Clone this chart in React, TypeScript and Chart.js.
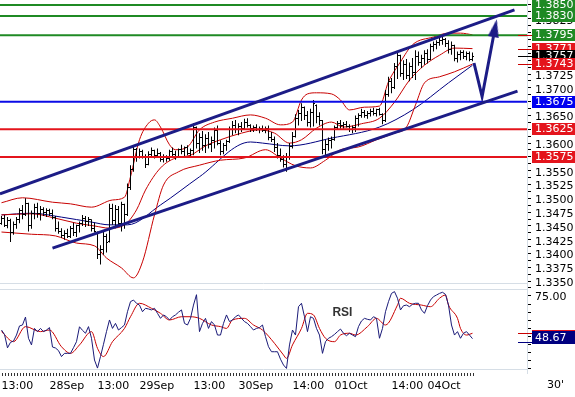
import React, { useEffect, useRef } from 'react';
import { Chart, registerables } from 'chart.js';

Chart.register(...registerables);

const FONT = '"DejaVu Sans", Verdana, sans-serif';

// ---- price bars (30-minute OHLC, EUR/USD) ----
const high = [
  1.3468, 1.3470, 1.3466, 1.3463, 1.3458, 1.3466, 1.3482, 1.3488, 1.3500, 1.3492,
  1.3478, 1.3490, 1.3492, 1.3486, 1.3484, 1.3482, 1.3481, 1.3480, 1.3468, 1.3458,
  1.3446, 1.3442, 1.3445, 1.3450, 1.3456, 1.3452, 1.3458, 1.3470, 1.3468, 1.3466,
  1.3462, 1.3456, 1.3440, 1.3415, 1.3440, 1.3436, 1.3490, 1.3490, 1.3488, 1.3486,
  1.3494, 1.3490, 1.3527, 1.3560, 1.3593, 1.3591, 1.3590, 1.3588, 1.3580, 1.3585,
  1.3592, 1.3588, 1.3590, 1.3584, 1.3580, 1.3578, 1.3588, 1.3592, 1.3586, 1.3590,
  1.3597, 1.3594, 1.3596, 1.3590, 1.3636, 1.3630, 1.3618, 1.3622, 1.3616, 1.3620,
  1.3612, 1.3628, 1.3632, 1.3605, 1.3600, 1.3606, 1.3630, 1.3640, 1.3642, 1.3636,
  1.3638, 1.3644, 1.3645, 1.3634, 1.3632, 1.3634, 1.3630, 1.3632, 1.3630, 1.3632,
  1.3620, 1.3612, 1.3600, 1.3590, 1.3578, 1.3582, 1.3600, 1.3620, 1.3652, 1.3660,
  1.3672, 1.3666, 1.3658, 1.3662, 1.3678, 1.3670, 1.3656, 1.3642, 1.3606, 1.3610,
  1.3612, 1.3632, 1.3640, 1.3642, 1.3638, 1.3640, 1.3634, 1.3632, 1.3650, 1.3654,
  1.3662, 1.3660, 1.3658, 1.3662, 1.3664, 1.3662, 1.3664, 1.3654, 1.3696, 1.3720,
  1.3718, 1.3745, 1.3764, 1.3760, 1.3750, 1.3752, 1.3746, 1.3754, 1.3768, 1.3766,
  1.3760, 1.3768, 1.3770, 1.3780, 1.3784, 1.3786, 1.3792, 1.3792, 1.3790, 1.3786,
  1.3784, 1.3778, 1.3766, 1.3768, 1.3768, 1.3766, 1.3766, 1.3764,
];
const low = [
  1.3452, 1.3448, 1.3446, 1.3421, 1.3434, 1.3445, 1.3455, 1.3462, 1.3468, 1.3440,
  1.3445, 1.3462, 1.3465, 1.3460, 1.3468, 1.3466, 1.3468, 1.3462, 1.3440, 1.3436,
  1.3428, 1.3425, 1.3428, 1.3428, 1.3432, 1.3430, 1.3438, 1.3450, 1.3448, 1.3450,
  1.3440, 1.3438, 1.3390, 1.3380, 1.3398, 1.3402, 1.3420, 1.3452, 1.3446, 1.3448,
  1.3440, 1.3445, 1.3468, 1.3515, 1.3548, 1.3566, 1.3572, 1.3572, 1.3555, 1.3560,
  1.3576, 1.3572, 1.3574, 1.3566, 1.3565, 1.3566, 1.3568, 1.3574, 1.3570, 1.3574,
  1.3580, 1.3576, 1.3578, 1.3576, 1.3578, 1.3590, 1.3582, 1.3586, 1.3582, 1.3590,
  1.3584, 1.3590, 1.3596, 1.3578, 1.3580, 1.3586, 1.3600, 1.3614, 1.3618, 1.3614,
  1.3620, 1.3624, 1.3628, 1.3620, 1.3620, 1.3622, 1.3618, 1.3620, 1.3618, 1.3605,
  1.3602, 1.3584, 1.3572, 1.3566, 1.3556, 1.3548, 1.3570, 1.3590, 1.3610, 1.3632,
  1.3640, 1.3642, 1.3630, 1.3628, 1.3630, 1.3636, 1.3632, 1.3580, 1.3578, 1.3586,
  1.3590, 1.3604, 1.3624, 1.3626, 1.3626, 1.3628, 1.3620, 1.3618, 1.3620, 1.3630,
  1.3646, 1.3646, 1.3644, 1.3648, 1.3650, 1.3648, 1.3650, 1.3634, 1.3638, 1.3684,
  1.3690, 1.3698, 1.3716, 1.3720, 1.3714, 1.3716, 1.3712, 1.3718, 1.3714, 1.3740,
  1.3736, 1.3742, 1.3744, 1.3750, 1.3766, 1.3770, 1.3776, 1.3778, 1.3774, 1.3762,
  1.3760, 1.3748, 1.3746, 1.3750, 1.3752, 1.3750, 1.3748, 1.3748,
];
const open = [
  1.3455, 1.3463, 1.3451, 1.3460, 1.3438, 1.3452, 1.3461, 1.3478, 1.3470, 1.3490,
  1.3450, 1.3472, 1.3484, 1.3472, 1.3480, 1.3474, 1.3478, 1.3472, 1.3466, 1.3446,
  1.3440, 1.3432, 1.3436, 1.3430, 1.3446, 1.3438, 1.3450, 1.3455, 1.3464, 1.3458,
  1.3462, 1.3445, 1.3438, 1.3398, 1.3408, 1.3430, 1.3422, 1.3482, 1.3460, 1.3480,
  1.3455, 1.3488, 1.3470, 1.3520, 1.3552, 1.3588, 1.3574, 1.3584, 1.3576, 1.3562,
  1.3580, 1.3586, 1.3578, 1.3582, 1.3570, 1.3575, 1.3572, 1.3584, 1.3580, 1.3576,
  1.3588, 1.3584, 1.3592, 1.3582, 1.3586, 1.3628, 1.3600, 1.3610, 1.3596, 1.3608,
  1.3598, 1.3604, 1.3622, 1.3600, 1.3584, 1.3595, 1.3602, 1.3625, 1.3632, 1.3624,
  1.3630, 1.3626, 1.3638, 1.3632, 1.3626, 1.3628, 1.3624, 1.3627, 1.3622, 1.3626,
  1.3610, 1.3606, 1.3592, 1.3578, 1.3570, 1.3562, 1.3576, 1.3594, 1.3612, 1.3645,
  1.3654, 1.3664, 1.3650, 1.3638, 1.3655, 1.3668, 1.3648, 1.3640, 1.3588, 1.3598,
  1.3604, 1.3606, 1.3628, 1.3636, 1.3632, 1.3634, 1.3630, 1.3624, 1.3628, 1.3644,
  1.3650, 1.3656, 1.3650, 1.3654, 1.3658, 1.3654, 1.3660, 1.3652, 1.3640, 1.3688,
  1.3712, 1.3700, 1.3738, 1.3758, 1.3726, 1.3742, 1.3722, 1.3738, 1.3728, 1.3756,
  1.3746, 1.3754, 1.3762, 1.3752, 1.3774, 1.3778, 1.3782, 1.3786, 1.3788, 1.3780,
  1.3770, 1.3776, 1.3754, 1.3760, 1.3764, 1.3756, 1.3762, 1.3752,
];
const close = [
  1.3463, 1.3451, 1.3460, 1.3438, 1.3452, 1.3461, 1.3478, 1.3470, 1.3490, 1.3450,
  1.3472, 1.3484, 1.3472, 1.3480, 1.3474, 1.3478, 1.3472, 1.3466, 1.3446, 1.3440,
  1.3432, 1.3436, 1.3430, 1.3446, 1.3438, 1.3450, 1.3455, 1.3464, 1.3458, 1.3462,
  1.3445, 1.3440, 1.3398, 1.3408, 1.3430, 1.3420, 1.3482, 1.3460, 1.3480, 1.3455,
  1.3488, 1.3470, 1.3520, 1.3552, 1.3588, 1.3574, 1.3584, 1.3576, 1.3562, 1.3580,
  1.3586, 1.3578, 1.3582, 1.3570, 1.3575, 1.3572, 1.3584, 1.3580, 1.3576, 1.3588,
  1.3584, 1.3592, 1.3582, 1.3586, 1.3628, 1.3600, 1.3610, 1.3596, 1.3608, 1.3598,
  1.3604, 1.3622, 1.3600, 1.3584, 1.3595, 1.3602, 1.3625, 1.3632, 1.3624, 1.3630,
  1.3626, 1.3638, 1.3632, 1.3626, 1.3628, 1.3624, 1.3627, 1.3622, 1.3626, 1.3610,
  1.3606, 1.3592, 1.3578, 1.3570, 1.3562, 1.3576, 1.3594, 1.3612, 1.3645, 1.3654,
  1.3664, 1.3650, 1.3638, 1.3655, 1.3672, 1.3648, 1.3640, 1.3588, 1.3598, 1.3604,
  1.3606, 1.3628, 1.3636, 1.3632, 1.3634, 1.3630, 1.3624, 1.3628, 1.3644, 1.3650,
  1.3656, 1.3650, 1.3654, 1.3658, 1.3654, 1.3660, 1.3652, 1.3640, 1.3688, 1.3712,
  1.3700, 1.3738, 1.3758, 1.3726, 1.3742, 1.3722, 1.3738, 1.3728, 1.3756, 1.3746,
  1.3754, 1.3762, 1.3752, 1.3774, 1.3778, 1.3782, 1.3786, 1.3788, 1.3780, 1.3770,
  1.3776, 1.3754, 1.3760, 1.3764, 1.3756, 1.3762, 1.3752, 1.3757,
];

// ---- Bollinger bands & moving average (sampled at bar indices) ----
const bbUpperIdx = [0, 7, 17, 23, 30, 37, 41, 43, 46, 49, 51, 53, 56, 58, 62, 66, 71, 77, 83, 88, 93, 97, 100, 102, 105, 110, 113, 116, 121, 126, 129, 133, 137, 144, 149, 153, 157];
const bbUpper = [1.3492, 1.3501, 1.3493, 1.3490, 1.3484, 1.3497, 1.3502, 1.3539, 1.3606, 1.3636, 1.3642, 1.3629, 1.3597, 1.3588, 1.3593, 1.3624, 1.3638, 1.3645, 1.3651, 1.3645, 1.3633, 1.3638, 1.3678, 1.3689, 1.3691, 1.3689, 1.3678, 1.3660, 1.3665, 1.3667, 1.3711, 1.3747, 1.3778, 1.3792, 1.3799, 1.3799, 1.3796];
const bbMidIdx = [0, 10, 18, 25, 31, 36, 41, 45, 48, 53, 58, 63, 68, 73, 80, 86, 91, 96, 100, 105, 110, 114, 120, 126, 131, 136, 141, 146, 151, 157];
const bbMid = [1.3470, 1.3472, 1.3464, 1.3455, 1.3450, 1.3446, 1.3452, 1.3479, 1.3515, 1.3555, 1.3573, 1.3578, 1.3595, 1.3606, 1.3618, 1.3624, 1.3618, 1.3600, 1.3606, 1.3627, 1.3638, 1.3629, 1.3635, 1.3645, 1.3674, 1.3714, 1.3741, 1.3759, 1.3772, 1.3771];
const bbLowerIdx = [0, 10, 18, 25, 31, 35, 40, 44, 47, 51, 54, 59, 66, 73, 81, 88, 93, 98, 103, 108, 113, 119, 125, 131, 135, 138, 141, 146, 151, 157];
const bbLower = [1.3439, 1.3435, 1.3432, 1.3419, 1.3414, 1.3392, 1.3374, 1.3356, 1.3385, 1.3470, 1.3524, 1.3548, 1.3560, 1.3569, 1.3573, 1.3588, 1.3573, 1.3559, 1.3555, 1.3569, 1.3588, 1.3593, 1.3606, 1.3618, 1.3629, 1.3669, 1.3709, 1.3720, 1.3729, 1.3743];
const maIdx = [0, 10, 20, 30, 36, 42, 53, 66, 83, 87, 96, 110, 126, 137, 149, 157];
const ma = [1.3470, 1.3473, 1.3466, 1.3457, 1.3452, 1.3452, 1.3488, 1.3539, 1.3602, 1.3600, 1.3595, 1.3609, 1.3629, 1.3660, 1.3709, 1.3741];

// ---- trend channel, levels, projection ----
const chanUpperIdx = [-0.5, 171];
const chanUpper = [1.3508, 1.3841];
const chanLowerIdx = [17, 172];
const chanLower = [1.3410, 1.3694];
const greenLevels = [1.3850, 1.3830, 1.3795];
const blueLevels = [1.3675];
const redLevels = [1.3625, 1.3575];
const projIdx = [157.5, 160.2, 164.5];
const proj = [1.3745, 1.3684, 1.3808];

// ---- RSI ----
const rsi = [
  54.0, 51.3, 43.0, 46.4, 47.2, 50.9, 56.5, 57.1, 62.0, 48.9,
  44.8, 55.0, 53.0, 55.0, 53.0, 54.0, 55.5, 43.5, 42.9, 41.3,
  37.6, 39.6, 39.6, 39.6, 43.1, 46.8, 56.0, 53.8, 52.0, 56.1,
  48.9, 35.5, 30.5, 37.6, 45.2, 53.0, 60.2, 55.0, 58.1, 54.0,
  55.5, 57.1, 65.3, 71.5, 72.5, 70.5, 69.4, 65.3, 67.4, 67.0,
  66.4, 67.4, 64.3, 61.2, 63.3, 62.2, 60.2, 62.2, 63.3, 65.0,
  66.4, 58.1, 57.1, 61.2, 69.4, 75.8, 53.0, 58.1, 61.2, 55.0,
  59.2, 57.1, 50.9, 50.9, 58.1, 63.3, 59.2, 60.2, 62.2, 63.3,
  61.2, 59.2, 58.1, 56.1, 54.0, 55.0, 55.5, 57.1, 49.9, 43.7,
  40.6, 40.6, 40.6, 36.0, 32.4, 30.3, 44.8, 54.0, 50.9, 68.4,
  70.5, 62.2, 53.0, 62.2, 61.2, 55.0, 50.9, 39.6, 46.8, 48.9,
  49.9, 51.3, 53.0, 54.6, 52.0, 50.5, 52.0, 50.9, 49.9, 56.1,
  59.6, 61.2, 60.6, 60.2, 62.2, 61.2, 48.9, 55.0, 65.3, 71.5,
  76.6, 77.7, 73.6, 66.4, 69.0, 69.4, 68.4, 69.9, 70.5, 70.5,
  66.4, 64.3, 69.0, 72.5, 74.6, 75.6, 76.6, 77.3, 76.0, 69.4,
  57.1, 50.9, 53.0, 48.9, 52.0, 53.0, 50.9, 48.67,
];
const rsiMaIdx = [0, 4, 8, 13, 16, 20, 23, 26, 30, 32, 34, 37, 41, 43, 46, 50, 53, 56, 60, 63, 66, 70, 73, 75, 77, 81, 84, 87, 91, 94, 95, 97, 100, 102, 104, 106, 108, 111, 113, 116, 118, 122, 125, 128, 132, 133, 136, 140, 143, 146, 148, 149, 152, 153, 155, 157];
const rsiMa = [53, 46.8, 56.1, 53, 54, 43.7, 39.6, 44.8, 53, 42.7, 37.6, 46.8, 55, 62.2, 70.5, 67.4, 64.3, 60.2, 62.2, 62.2, 61.2, 57.1, 56.1, 55, 60.2, 61.2, 57.1, 54, 45.8, 38.6, 36.5, 44.8, 55, 64.3, 63.3, 55, 48.9, 46.8, 50.9, 52, 50.9, 56.1, 61.2, 57.1, 69.4, 73.6, 70.5, 69.4, 68.4, 73.6, 75.6, 69.4, 61.2, 55, 50.9, 52];

// ---- axes ----
const xLabelIdx = [0, 16, 32, 46, 64, 79, 97, 111, 130, 142];
const xLabels = ['13:00', '28Sep', '13:00', '29Sep', '13:00', '30Sep', '14:00', '01Oct', '14:00', '04Oct'];
const xMin = -0.5;
const xMax = 175.17;
const priceMin = 1.33413;
const priceMax = 1.3859;
const priceTickFrom = 1.335;
const priceTickTo = 1.385;
const priceTickStep = 0.00125;
const rsiMin = 27.47;
const rsiMax = 81.17;
const rsiTicks = [30, 35, 40, 45, 50, 55, 60, 65, 70, 75, 80];
const rsiLabelled = [75];
const panelPriceLine = 1.3346;
const panelRsiLines = [79.6, 30];

const NAVY = '#1c1c86';
const GREEN = '#1f8a24';
const BLUE = '#0b0be6';
const RED = '#e4141c';
const BAND = '#c80000';

const pts = (xs: number[], ys: number[]) => xs.map((x, i) => ({ x, y: ys[i] }));
const levelLine = (v: number) => [{ x: xMin, y: v }, { x: xMax, y: v }];

export default function App() {
  const ref = useRef<HTMLCanvasElement>(null);

  useEffect(() => {
    document.body.style.margin = '0';
    const mk = (w: number, h: number, draw: (g: CanvasRenderingContext2D) => void) => {
      const c = document.createElement('canvas');
      c.width = w;
      c.height = h;
      draw(c.getContext('2d')!);
      return c;
    };
    const openImg = mk(3, 1, (g) => { g.fillStyle = '#000'; g.fillRect(0, 0, 1, 1); });
    const closeImg = mk(3, 1, (g) => { g.fillStyle = '#000'; g.fillRect(2, 0, 1, 1); });
    const arrowImg = mk(11, 18, (g) => {
      g.fillStyle = NAVY;
      g.beginPath();
      g.moveTo(5.5, 0);
      g.lineTo(11, 18);
      g.lineTo(0, 18);
      g.closePath();
      g.fill();
    });

    const idx = high.map((_, i) => i);
    const line = (data: any[], color: string, width: number, extra: any = {}) => ({
      type: 'line', data, borderColor: color, borderWidth: width, pointRadius: 0, fill: false, ...extra,
    });

    const datasets: any[] = [
      line(pts(projIdx, proj), NAVY, 3, { pointStyle: arrowImg, pointRadius: [0, 0, 9], pointRotation: 11, borderJoinStyle: 'miter' }),
      line(pts(chanUpperIdx, chanUpper), NAVY, 3),
      line(pts(chanLowerIdx, chanLower), NAVY, 3),
      ...greenLevels.map((v) => line(levelLine(v), GREEN, 2)),
      ...blueLevels.map((v) => line(levelLine(v), BLUE, 2)),
      ...redLevels.map((v) => line(levelLine(v), RED, 2)),
      { type: 'line', showLine: false, data: pts(idx, open), pointStyle: openImg, pointRadius: 1, pointHoverRadius: 1 },
      { type: 'line', showLine: false, data: pts(idx, close), pointStyle: closeImg, pointRadius: 1, pointHoverRadius: 1 },
      {
        type: 'bar',
        data: idx.map((i) => ({ x: i, y: [low[i], high[i]] })),
        backgroundColor: '#000',
        borderWidth: 0,
        barThickness: 1,
        grouped: false,
        inflateAmount: 0,
      },
      line(pts(bbUpperIdx, bbUpper), BAND, 1, { cubicInterpolationMode: 'monotone' }),
      line(pts(bbMidIdx, bbMid), BAND, 1, { cubicInterpolationMode: 'monotone' }),
      line(pts(bbLowerIdx, bbLower), BAND, 1, { cubicInterpolationMode: 'monotone' }),
      line(pts(maIdx, ma), '#000080', 1, { cubicInterpolationMode: 'monotone' }),
      line(pts(idx, rsi), '#1a1a78', 1, { yAxisID: 'rsi' }),
      line(pts(rsiMaIdx, rsiMa), BAND, 1, { yAxisID: 'rsi', cubicInterpolationMode: 'monotone' }),
    ];

    const zeroPad = (s: any) => {
      s.paddingLeft = 0;
      s.paddingRight = 0;
      s.paddingTop = 0;
      s.paddingBottom = 0;
    };

    const overlay = {
      id: 'overlay',
      beforeDatasetsDraw(chart: any) {
        const { ctx, chartArea: a, scales: s } = chart;
        ctx.save();
        ctx.strokeStyle = '#d6dee6';
        ctx.lineWidth = 1;
        const ys = [s.y.getPixelForValue(panelPriceLine), ...panelRsiLines.map((v) => s.rsi.getPixelForValue(v))];
        ys.forEach((y: number) => {
          const yy = Math.round(y) + 0.5;
          ctx.beginPath();
          ctx.moveTo(a.left, yy);
          ctx.lineTo(a.right, yy);
          ctx.stroke();
        });
        ctx.restore();
      },
      afterDraw(chart: any) {
        const { ctx, chartArea: a, scales: s } = chart;
        const bx = a.right + 5;
        ctx.save();
        const mark = (y: number, c: string) => {
          const yy = Math.round(y) + 0.5;
          ctx.strokeStyle = c;
          ctx.lineWidth = 1;
          ctx.beginPath();
          ctx.moveTo(a.right - 9, yy);
          ctx.lineTo(bx, yy);
          ctx.stroke();
        };
        const box = (y: number, c: string, t: string, up = 6, down = 6) => {
          const yy = Math.round(y);
          ctx.fillStyle = c;
          ctx.fillRect(bx, yy - up, 575 - bx, up + down);
          ctx.fillStyle = '#fff';
          ctx.font = `11px ${FONT}`;
          ctx.textAlign = 'left';
          ctx.textBaseline = 'middle';
          ctx.fillText(t, bx + 3, yy + (down - up) / 2 + 0.5);
        };
        const py = (v: number) => s.y.getPixelForValue(v);
        const ry = (v: number) => s.rsi.getPixelForValue(v);
        const upLast = bbUpper[bbUpper.length - 1];
        const midLast = bbMid[bbMid.length - 1];
        const lowLast = bbLower[bbLower.length - 1];
        const cLast = close[close.length - 1];
        mark(py(upLast), BAND);
        mark(py(midLast), BAND);
        mark(py(cLast), '#000');
        mark(py(lowLast), BAND);
        box(py(upLast), RED, upLast.toFixed(4));
        greenLevels.forEach((v) => box(py(v), GREEN, v.toFixed(4)));
        box(py(midLast), RED, midLast.toFixed(4));
        box(py(cLast), '#000', cLast.toFixed(4));
        box(py(lowLast), RED, lowLast.toFixed(4));
        blueLevels.forEach((v) => box(py(v), '#0000f0', v.toFixed(4)));
        redLevels.forEach((v) => box(py(v), RED, v.toFixed(4)));
        const rmLast = rsiMa[rsiMa.length - 1];
        const rLast = rsi[rsi.length - 1];
        mark(ry(rmLast), BAND);
        mark(ry(rLast) + 3, '#000080');
        box(ry(rmLast) + 3, RED, rmLast.toFixed(2), 6, 6);
        box(ry(rLast), '#000080', rLast.toFixed(2), 8, 5);
        // texts
        ctx.fillStyle = '#333';
        ctx.font = 'bold 12px "Liberation Sans", Arial, sans-serif';
        ctx.textAlign = 'left';
        ctx.textBaseline = 'middle';
        ctx.fillText('RSI', s.x.getPixelForValue(110.3), ry(65));
        ctx.fillStyle = '#000';
        ctx.font = `11px ${FONT}`;
        ctx.textBaseline = 'top';
        ctx.fillText("30'", a.right + 20, s.x.top + 7);
        ctx.restore();
      },
    };

    const chart = new Chart(ref.current!, {
      type: 'line',
      data: { datasets },
      plugins: [overlay],
      options: {
        responsive: false,
        maintainAspectRatio: false,
        animation: false,
        devicePixelRatio: 1,
        events: [],
        layout: { padding: 0, autoPadding: false },
        plugins: { legend: { display: false }, tooltip: { enabled: false } },
        scales: {
          x: {
            type: 'linear',
            position: 'bottom',
            min: xMin,
            max: xMax,
            offset: false,
            border: { display: false },
            grid: { drawOnChartArea: false, drawTicks: true, tickLength: 3, color: '#333', lineWidth: 1 },
            ticks: {
              autoSkip: false,
              maxRotation: 0,
              minRotation: 0,
              align: 'start',
              padding: 4,
              color: '#000',
              font: { family: FONT, size: 11 },
              callback: (v: any) => {
                const k = xLabelIdx.indexOf(v);
                return k >= 0 ? xLabels[k] : '';
              },
            },
            afterBuildTicks: (sc: any) => {
              sc.ticks = idx.map((i) => ({ value: i }));
            },
            afterFit: (sc: any) => {
              sc.height = 24;
              zeroPad(sc);
            },
          },
          y: {
            type: 'linear',
            position: 'right',
            stack: 'panels',
            stackWeight: 286,
            min: priceMin,
            max: priceMax,
            border: { display: true, color: '#d6dee6' },
            grid: { drawOnChartArea: false, tickLength: 4, color: '#000' },
            ticks: {
              autoSkip: false,
              padding: 4,
              labelOffset: 2,
              color: '#000',
              font: { family: FONT, size: 11 },
              callback: (v: any) => {
                const k = Math.round((v - priceTickFrom) / priceTickStep);
                return k % 2 === 0 ? Number(v).toFixed(4) : '';
              },
            },
            afterBuildTicks: (sc: any) => {
              const t: any[] = [];
              const n = Math.round((priceTickTo - priceTickFrom) / priceTickStep);
              for (let k = 0; k <= n; k++) t.push({ value: priceTickFrom + k * priceTickStep });
              sc.ticks = t;
            },
            afterFit: (sc: any) => {
              sc.width = 48;
              zeroPad(sc);
            },
          },
          rsi: {
            type: 'linear',
            axis: 'y',
            position: 'right',
            stack: 'panels',
            stackWeight: 87,
            min: rsiMin,
            max: rsiMax,
            border: { display: true, color: '#d6dee6' },
            grid: { drawOnChartArea: false, tickLength: 4, color: '#000' },
            ticks: {
              autoSkip: false,
              padding: 4,
              labelOffset: 1,
              color: '#000',
              font: { family: FONT, size: 11 },
              callback: (v: any) => (rsiLabelled.includes(v) ? Number(v).toFixed(2) : ''),
            },
            afterBuildTicks: (sc: any) => {
              sc.ticks = rsiTicks.map((v) => ({ value: v }));
            },
            afterFit: (sc: any) => {
              sc.width = 48;
              zeroPad(sc);
            },
          },
        },
      } as any,
    });
    return () => chart.destroy();
  }, []);

  return (
    <div style={{ position: 'absolute', left: 0, top: 0, width: 575, height: 397, background: '#fff' }}>
      <canvas ref={ref} width={575} height={397} style={{ display: 'block', width: 575, height: 397 }} />
    </div>
  );
}
